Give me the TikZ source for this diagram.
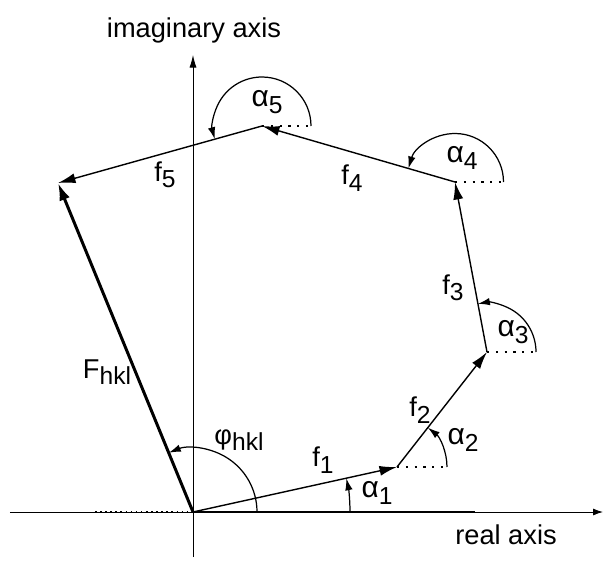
\documentclass[tikz,border=0pt]{standalone}
\usepackage{fontspec}
\setmainfont{Liberation Sans}
\usetikzlibrary{arrows.meta}

\newcommand\lowidx[1]{\raisebox{-0.45ex}{\fontsize{14}{14}\selectfont #1}}

\begin{document}
\begin{tikzpicture}[
    font=\fontsize{15.5}{18}\selectfont,
    vec/.style={line width=0.8pt, -{Latex[length=3.5mm,width=2mm]}},
    ang/.style={line width=0.7pt, -{Latex[length=2.4mm,width=1.5mm]}},
    ref/.style={line width=1pt, dash pattern=on 1.3pt off 3.7pt},
]
    \useasboundingbox (-3.86,-0.98) rectangle (8.26,10.24);

    % axes
    \coordinate (O) at (0,0);
    \coordinate (xl) at (-3.66,0);
    \coordinate (xr) at (8.20,0);
    \coordinate (yb) at (0,-0.90);
    \coordinate (yt) at (0,9.14);
    \draw[line width=0.5pt, -{Latex[length=2mm,width=1.4mm]}] (xl) -- (xr);
    \draw[line width=0.5pt, -{Latex[length=2.5mm,width=1.4mm]}] (yb) -- (yt);
    \draw[line width=1.4pt] (O) -- (5.64,0);
    \draw[line width=0.9pt, dotted] (-1.96,0) -- (O);
    \node (imag) at (0.02,9.64) {imaginary axis};
    \node (real) at (6.26,-0.46) {real axis};

    % corners of the polygon
    \coordinate (P1) at (4.08,0.90);
    \coordinate (P2) at (5.88,3.20);
    \coordinate (P3) at (5.24,6.60);
    \coordinate (P4) at (1.38,7.72);
    \coordinate (P5) at (-2.70,6.58);

    \draw[vec] (O) -- (P1);
    \draw[vec] (P1) -- (P2);
    \draw[vec] (P2) -- (P3);
    \draw[vec] (P3) -- (P4);
    \draw[vec] (P4) -- (P5);
    \draw[line width=1.7pt, -{Latex[length=3.5mm,width=2.2mm]}] (O) -- (P5);

    % reference lines and angles
    \draw[ref] (P1) -- ++(1.05,0);
    \draw[ref] (P2) -- ++(1.05,0);
    \draw[ref] (P3) -- ++(1.02,0);
    \draw[ref] (P4) -- ++(1.02,0);
    \draw[ang] (O) ++(1.28,0) arc[start angle=0, end angle=112.2, radius=1.28];
    \draw[ang] (O) ++(3.14,0) arc[start angle=0, end angle=12.4, radius=3.14];
    \draw[ang] (P1) ++(1.0,0) arc[start angle=0, end angle=51.9, radius=1.0];
    \draw[ang] (P2) ++(0.98,0) arc[start angle=0, end angle=100.7, radius=0.98];
    \draw[ang] (P3) ++(0.97,0) arc[start angle=0, end angle=163.8, radius=0.97];
    \draw[ang] (P4) ++(0.98,0) arc[start angle=0, end angle=195.6, radius=0.98];

    % labels
    \node (f1) at (2.60,1.04) {f\lowidx{1}};
    \node (f2) at (4.54,2.04) {f\lowidx{2}};
    \node (f3) at (5.20,4.48) {f\lowidx{3}};
    \node (f4) at (3.18,6.68) {f\lowidx{4}};
    \node (f5) at (-0.56,6.74) {f\lowidx{5}};
    \node (F) at (-1.72,2.80) {F\lowidx{hkl}};
    \node (phi) at (0.92,1.44) {φ\lowidx{hkl}};
    \node (a1) at (3.68,0.38) {\fontsize{17}{18}\selectfont α\lowidx{1}};
    \node (a2) at (5.40,1.44) {\fontsize{17}{18}\selectfont α\lowidx{2}};
    \node (a3) at (6.40,3.60) {\fontsize{17}{18}\selectfont α\lowidx{3}};
    \node (a4) at (5.38,7.08) {\fontsize{17}{18}\selectfont α\lowidx{4}};
    \node (a5) at (1.48,8.20) {\fontsize{17}{18}\selectfont α\lowidx{5}};
\end{tikzpicture}
\end{document}
